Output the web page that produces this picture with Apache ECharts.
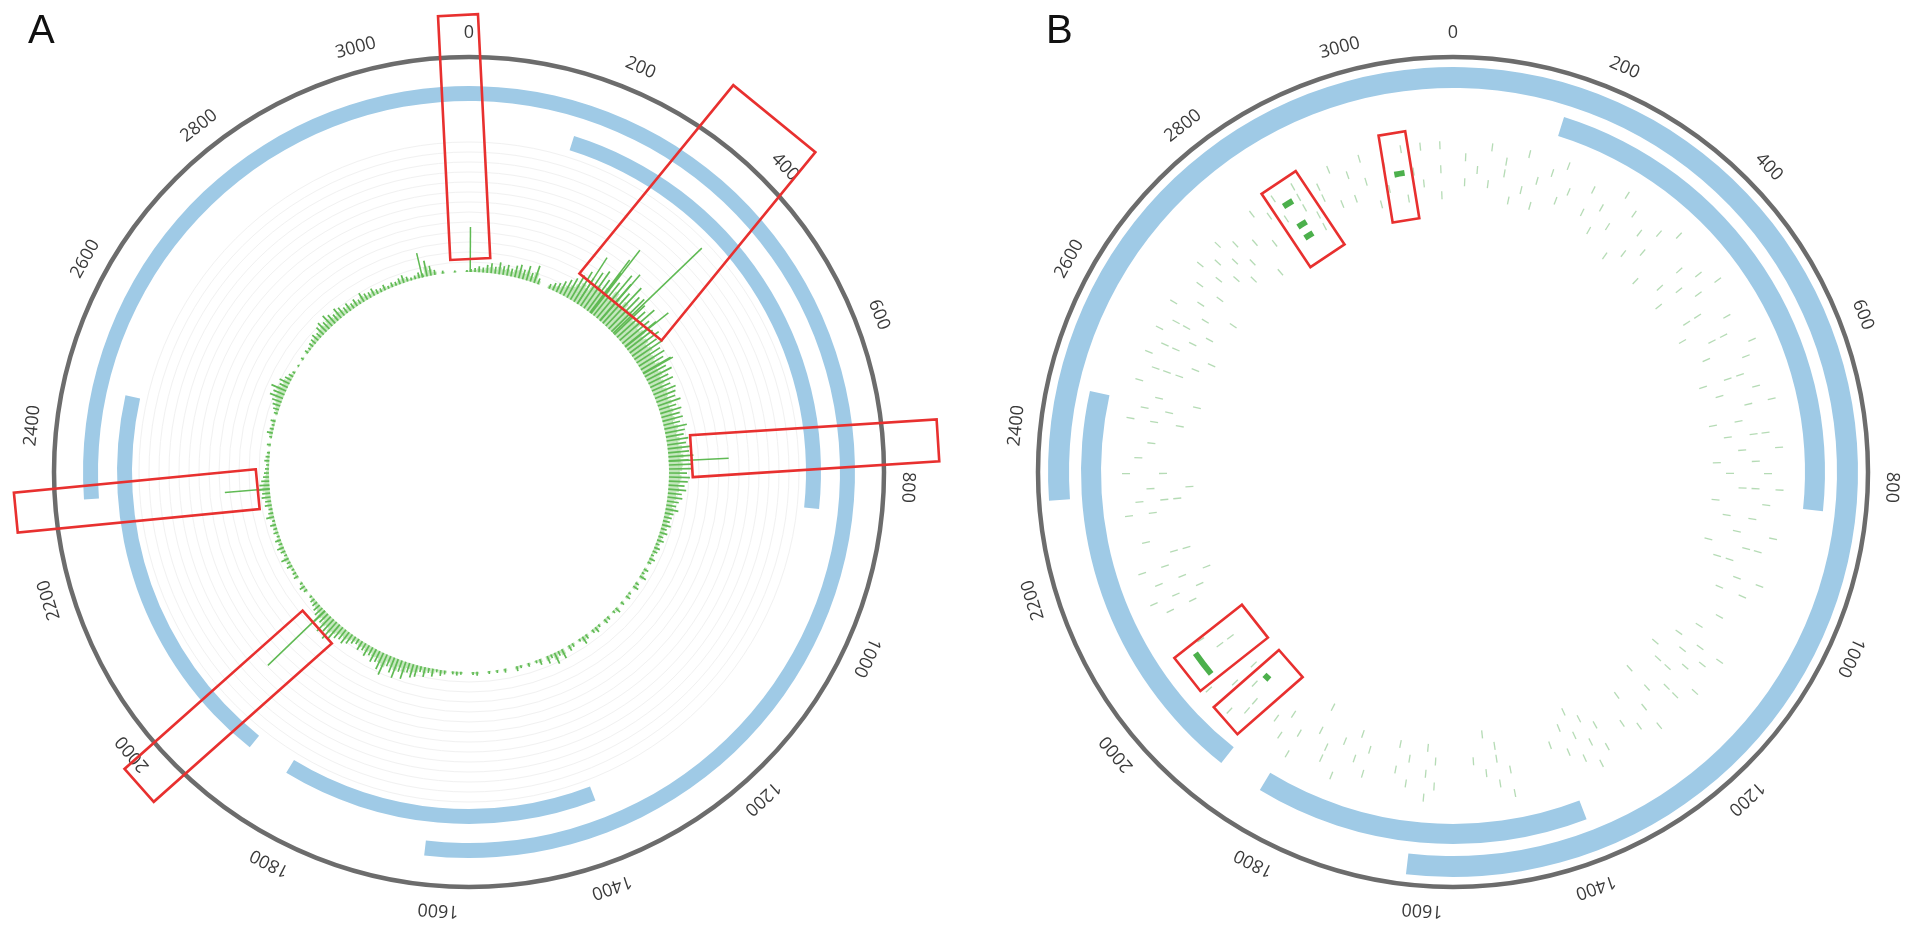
<!DOCTYPE html>
<html>
<head>
<meta charset="utf-8">
<script src="https://cdn.jsdelivr.net/npm/echarts/dist/echarts.min.js"></script>
<style>html,body{margin:0;padding:0;background:#fff;}#c{width:1913px;height:934px;}</style>
</head>
<body>
<div id="c"></div>
<script>
// ---------------- DATA ----------------
const GENOME_LEN = 3130;
const tickValues = [0,200,400,600,800,1000,1200,1400,1600,1800,2000,2200,2400,2600,2800,3000];

// blue ring arcs (genome coordinates); track 0 = outer ring, 1 = inner ring
const arcStart = [2312, 151, 1382, 1900];
const arcEnd   = [1623, 835, 1837, 2457];
const arcTrack = [0, 1, 1, 1];

// Panel A: coverage histogram in bins of 10 (bar length in radius units)
const aBinSize = 10;
const aBins = [
  3,4,6,5,8,10,7,12,9,11,
  8,12,14,10,15,9,18,6,0,0,
  5,8,10,14,18,22,28,35,30,40,
  45,38,50,42,55,48,40,52,44,46,
  42,38,46,35,40,32,36,30,34,28,
  30,26,32,24,28,22,25,20,24,22,
  20,24,18,22,19,21,17,23,20,18,
  22,19,24,21,25,20,23,22,18,21,
  19,16,18,14,15,12,10,13,9,8,
  7,9,6,8,5,7,4,6,5,3,
  6,4,0,5,3,7,0,4,6,0,
  3,5,0,4,0,6,3,0,4,5,
  0,3,6,4,0,5,8,3,0,4,
  6,0,10,5,12,4,8,0,6,3,
  0,4,0,3,5,0,0,4,0,3,
  0,3,0,0,4,3,0,0,3,4,
  3,0,4,6,3,8,5,10,6,12,
  14,10,18,12,20,16,11,22,18,12,
  14,9,12,8,10,6,8,11,14,12,
  14,18,22,16,20,12,15,10,8,6,
  5,3,0,4,6,3,0,5,4,3,
  6,4,8,3,5,7,4,6,3,5,
  4,6,3,8,5,4,7,6,9,8,
  12,10,8,6,5,4,3,5,4,3,
  0,4,0,3,6,4,3,5,0,4,
  6,8,10,14,12,16,9,11,7,5,
  3,0,2,0,3,0,4,3,5,6,
  8,6,10,12,9,14,11,8,12,10,
  7,9,6,8,5,10,7,6,8,5,
  4,6,3,5,4,6,8,5,3,4,
  6,4,16,10,5,0,3,0,0,2,0,0,2
];
// Panel A: isolated tall peaks
const aPeakPos = [3, 285, 323, 327, 356, 401, 447, 527, 756, 1966, 2306, 3013];
const aPeakVal = [45, 55, 66, 80, 61, 123, 55, 34, 60, 79, 45, 25];

// Panel B: weak hits [position, [track indices]]
const bHits = [
  [2960,[4,2]],[2985,[5,3]],[3000,[1]],[3020,[4,2]],[3050,[5,1]],[3065,[3]],[3080,[5,2]],[3110,[5,3,1]],
  [20,[4,2]],[40,[3]],[60,[5,2]],[85,[4,3]],[100,[1]],[118,[5,2]],[140,[3,1]],[160,[4]],[180,[5,2]],[195,[3]],
  [230,[4,2]],[255,[3,1]],[280,[5,2]],[305,[4,0]],[330,[3,1]],[355,[4,2]],[380,[5,0]],
  [420,[3,1]],[445,[4,2,0]],[470,[5,3]],[500,[2,1]],[525,[4,0]],[550,[3,2]],[575,[5,1]],[595,[4]],
  [620,[3,2,0]],[645,[4,1]],[670,[5,3]],[695,[2,0]],[720,[4,3,1]],[745,[5,2]],[765,[3,0]],[785,[4,1]],
  [810,[5,3,2]],[835,[4,0]],[860,[3,1]],[885,[5,2]],[910,[4,3,0]],[935,[2,1]],[960,[5,3]],[985,[4,2]],
  [1030,[3]],[1060,[2]],
  [1090,[5,3,1]],[1110,[4,2]],[1130,[3,0]],[1150,[5,2,1]],[1175,[4,3]],[1200,[2,0]],[1225,[5,3]],[1250,[4,1]],[1270,[3]],
  [1310,[4,2]],[1330,[5,3,1]],[1350,[4,2,0]],[1370,[3,1]],[1395,[2]],
  [1470,[5,3]],[1490,[4,2,1]],[1510,[3,0]],[1530,[2]],
  [1595,[4,2]],[1610,[5,3,1]],[1640,[4,2]],[1660,[3,1]],
  [1710,[4,2]],[1730,[3,1]],[1755,[5,2]],[1780,[4,3]],[1800,[2,0]],[1830,[5,3]],[1855,[4,2]],[1875,[3]],
  [1920,[4,3]],[1940,[5,2]],[1965,[3,1]],[1985,[5]],[2030,[2,1]],[2055,[3]],
  [2120,[4,2]],[2140,[5,3,1]],[2165,[4,2,0]],[2190,[5,3]],[2210,[2,1]],[2235,[4]],
  [2280,[5,3]],[2300,[4,2,1]],[2320,[3,0]],[2345,[5,2]],[2370,[4]],[2395,[3]],
  [2430,[5,3,1]],[2450,[4,2]],[2470,[3,0]],[2490,[5]],
  [2515,[4,3,2]],[2535,[5,1]],[2555,[4,3,0]],[2575,[5,2]],[2595,[4,3,1]],[2620,[5,2]],[2640,[3,0]],[2665,[4,2]],[2690,[5,3]],
  [2710,[4,2]],[2730,[5,3,1]],[2750,[4,2]],[2775,[3,0]],[2800,[5,2]],[2820,[4]],
  [2840,[3,5]],[2875,[4,3,5]],[2890,[2,1]],[2910,[4,3]],[2935,[5,2]]
];
// Panel B: strong hits
const bStrongStart = [3033, 2847, 2849, 2849, 2001, 1926];
const bStrongEnd   = [3050, 2864, 2866, 2866, 2042, 1938];
const bStrongTrack = [3, 4, 2, 1, 4, 1];

// highlight boxes: [radius1, pos1, radius2, pos2, width]
const aBoxes = [
  [213, 3, 457, 3118, 40],
  [224, 370, 467, 355, 106],
  [223, 747, 470, 749, 42],
  [212, 2307, 455, 2303, 40],
  [217, 1951, 455, 1969, 44]
];
const bBoxes = [
  [256, 3038, 344, 3041, 27],
  [250, 2868, 338, 2860, 41],
  [248, 2026, 334, 2023, 42],
  [251, 1915, 337, 1934, 36]
];

// ---------------- LAYOUT / STYLE ----------------
const R = 415;
const panels = [
  {center:[469,472], ring:[[371,386],[337,352]], labelR:439},
  {center:[1453,472], ring:[[384,405],[352,372]], labelR:439}
];
const aBaseR = 200;
const aGridR = [210,220,230,240,250,260,270,280,290,300,310,320,330];
const bTrackR = [264,277,290,303,315,327];
const BLUE = '#9fcae6';
const GREEN = 'rgb(96,186,84)';
const RED = '#e8302f';

// ---------------- HELPERS ----------------
function angOf(p, cs){ return Math.atan2(p[1]-cs.cy, p[0]-cs.cx); }
function radOf(p, cs){ return Math.hypot(p[0]-cs.cx, p[1]-cs.cy); }
function sectorEl(api, cs, rIn, rOut, v0, v1, style){
  const p0 = api.coord([rIn, v0]);
  const p1 = api.coord([rOut, v1]);
  const s = angOf(p0, cs);
  let e = angOf(p1, cs);
  while (e <= s) e += 2*Math.PI;
  return {type:'sector', shape:{cx:cs.cx, cy:cs.cy, r0:radOf(p0,cs), r:radOf(p1,cs), startAngle:s, endAngle:e, clockwise:true}, style:style};
}
function base(pi){ return {type:'custom', coordinateSystem:'polar', polarIndex:pi, silent:true, animation:false, encode:{radius:0, angle:1}}; }

function ringSeries(pi){
  const rr = panels[pi].ring;
  return Object.assign(base(pi), {
    data: arcStart.map((s,i)=>[rr[arcTrack[i]][0], s, rr[arcTrack[i]][1], arcEnd[i]]),
    renderItem: function(params, api){
      return sectorEl(api, params.coordSys, api.value(0), api.value(2), api.value(1), api.value(3), {fill:BLUE});
    }
  });
}
function labelSeries(pi){
  return Object.assign(base(pi), {
    data: tickValues.map(v=>[panels[pi].labelR, v]),
    z: 5,
    renderItem: function(params, api){
      const cs = params.coordSys;
      const p = api.coord([api.value(0), api.value(1)]);
      const a = angOf(p, cs) + Math.PI/2;
      return {type:'text', x:p[0], y:p[1], rotation:-a,
        style:{text:String(api.value(1)), fill:'#3a3a3a', font:'18px "Open Sans"', align:'center', verticalAlign:'middle'}};
    }
  });
}
function boxSeries(pi, boxes){
  return Object.assign(base(pi), {
    data: boxes,
    z: 10,
    renderItem: function(params, api){
      const cs = params.coordSys;
      const p1 = api.coord([api.value(0), api.value(1)]);
      const p2 = api.coord([api.value(2), api.value(3)]);
      const w = radOf(api.coord([api.value(4), 0]), cs) / 2;
      const dx = p2[0]-p1[0], dy = p2[1]-p1[1], L = Math.hypot(dx, dy);
      const nx = -dy/L*w, ny = dx/L*w;
      return {type:'polygon', shape:{points:[[p1[0]+nx,p1[1]+ny],[p2[0]+nx,p2[1]+ny],[p2[0]-nx,p2[1]-ny],[p1[0]-nx,p1[1]-ny]]},
        style:{fill:'none', stroke:RED, lineWidth:2.6}};
    }
  });
}

const series = [];
// ---- Panel A ----
series.push(Object.assign(base(0), {
  data: aGridR.map(r=>[r, 0]),
  renderItem: function(params, api){
    const cs = params.coordSys;
    const p = api.coord([api.value(0), api.value(1)]);
    return {type:'circle', shape:{cx:cs.cx, cy:cs.cy, r:radOf(p,cs)}, style:{fill:'none', stroke:'#f1f1f1', lineWidth:1}};
  }
}));
series.push(ringSeries(0));
// soft underlay of the histogram
series.push(Object.assign(base(0), {
  data: aBins.map((v,i)=>[v, i*aBinSize + aBinSize/2]),
  renderItem: function(params, api){
    const v = api.value(0);
    if (!(v > 0)) return null;
    const pos = api.value(1);
    const half = aBinSize*0.5;
    return sectorEl(api, params.coordSys, aBaseR, aBaseR + v*0.6, pos-half, pos+half, {fill:'rgba(120,200,105,0.45)'});
  }
}));
// spiky bars of the histogram
series.push(Object.assign(base(0), {
  data: aBins.map((v,i)=>[v, i*aBinSize + aBinSize/2]),
  renderItem: function(params, api){
    const v = api.value(0);
    if (!(v > 0)) return null;
    const pos = api.value(1);
    const a = api.coord([aBaseR, pos]);
    const b = api.coord([aBaseR + v, pos]);
    return {type:'line', shape:{x1:a[0], y1:a[1], x2:b[0], y2:b[1]}, style:{stroke:GREEN, lineWidth:1.7}};
  }
}));
series.push(Object.assign(base(0), {
  data: aPeakPos.map((p,i)=>[aPeakVal[i], p]),
  renderItem: function(params, api){
    const pos = api.value(1);
    const a = api.coord([aBaseR, pos]);
    const b = api.coord([aBaseR + api.value(0), pos]);
    return {type:'line', shape:{x1:a[0], y1:a[1], x2:b[0], y2:b[1]}, style:{stroke:GREEN, lineWidth:1.5}};
  }
}));
series.push(labelSeries(0));
series.push(boxSeries(0, aBoxes));

// ---- Panel B ----
series.push(ringSeries(1));
const bFlat = [];
bHits.forEach(h=>h[1].forEach(t=>bFlat.push([bTrackR[t], h[0]])));
series.push(Object.assign(base(1), {
  data: bFlat,
  renderItem: function(params, api){
    const r = api.value(0), pos = api.value(1);
    const a = api.coord([r-4, pos]);
    const b = api.coord([r+4, pos]);
    return {type:'line', shape:{x1:a[0], y1:a[1], x2:b[0], y2:b[1]}, style:{stroke:'rgba(120,190,120,0.55)', lineWidth:1.3}};
  }
}));
series.push(Object.assign(base(1), {
  data: bStrongStart.map((s,i)=>[bTrackR[bStrongTrack[i]], s, bStrongEnd[i]]),
  renderItem: function(params, api){
    const r = api.value(0);
    return sectorEl(api, params.coordSys, r-3, r+3, api.value(1), api.value(2), {fill:'rgb(76,176,76)'});
  }
}));
series.push(labelSeries(1));
series.push(boxSeries(1, bBoxes));

const chart = echarts.init(document.getElementById('c'));
chart.setOption({
  animation: false,
  backgroundColor: '#fff',
  title: [
    {text:'A', left:28, top:12, padding:0, textStyle:{fontSize:40, fontWeight:'normal', fontFamily:'Liberation Sans', color:'#111'}},
    {text:'B', left:1046, top:12, padding:0, textStyle:{fontSize:40, fontWeight:'normal', fontFamily:'Liberation Sans', color:'#111'}}
  ],
  polar: panels.map(p=>({center:p.center, radius:[0, R]})),
  angleAxis: panels.map((p,i)=>({polarIndex:i, type:'value', min:0, max:GENOME_LEN, startAngle:90, clockwise:true,
    axisLine:{show:true, lineStyle:{color:'#6c6c6c', width:4.5}}, axisTick:{show:false}, axisLabel:{show:false}, splitLine:{show:false}})),
  radiusAxis: panels.map((p,i)=>({polarIndex:i, type:'value', min:0, max:R, axisLine:{show:false}, axisTick:{show:false}, axisLabel:{show:false}, splitLine:{show:false}})),
  series: series
});
</script>
</body>
</html>
